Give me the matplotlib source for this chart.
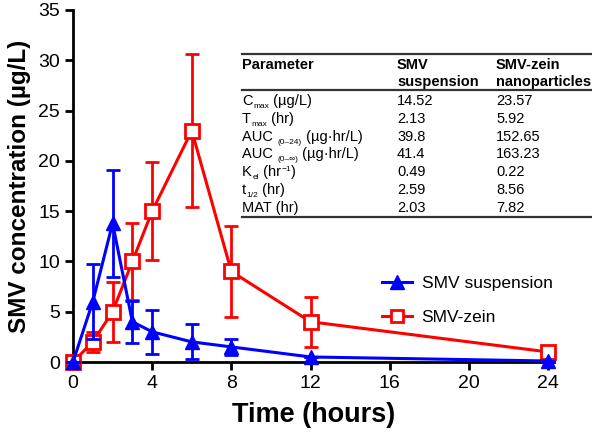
import matplotlib
matplotlib.use("Agg")
import matplotlib.pyplot as plt
from matplotlib.lines import Line2D

plt.rcParams['font.family'] = ['Liberation Sans', 'DejaVu Sans']

# time points (hours)
time = [0, 1, 2, 3, 4, 6, 8, 12, 24]

# SMV suspension
susp_mean = [0, 6.0, 13.8, 4.0, 3.0, 2.0, 1.5, 0.5, 0.1]
susp_err = [0, 3.7, 5.3, 2.1, 2.2, 1.75, 0.8, 0, 0]

# SMV-zein nanoparticles
zein_mean = [0, 2.0, 5.0, 10.0, 15.0, 23.0, 9.0, 4.0, 1.0]
zein_err = [0, 1.0, 3.0, 3.8, 4.9, 7.6, 4.5, 2.5, 0]

# PK parameter table: pieces of (text, kind) with kind n / sub / sup
param_names = [[('C', 'n'), ('max', 'sub'), (' (µg/L)', 'n')],
               [('T', 'n'), ('max', 'sub'), (' (hr)', 'n')],
               [('AUC ', 'n'), ('(0\u201324)', 'sub'), (' (µg·hr/L)', 'n')],
               [('AUC ', 'n'), ('(0\u2013\u221e)', 'sub'), (' (µg·hr/L)', 'n')],
               [('K', 'n'), ('el', 'sub'), (' (hr', 'n'), ('\u22121', 'sup'), (')', 'n')],
               [('t', 'n'), ('1/2', 'sub'), (' (hr)', 'n')],
               [('MAT (hr)', 'n')]]
susp_params = ['14.52', '2.13', '39.8', '41.4', '0.49', '2.59', '2.03']
zein_params = ['23.57', '5.92', '152.65', '163.23', '0.22', '8.56', '7.82']

W, H = 592, 436
fig = plt.figure(figsize=(W / 100, H / 100), dpi=100)
ax = fig.add_axes([73 / W, (H - 362) / H, 481 / W, 352 / H])

ax.errorbar(time, zein_mean, yerr=zein_err, color='#ff0000', lw=2.2, marker='s',
            ms=10, mfc='white', mec='#ff0000', mew=2, capsize=5, capthick=2,
            elinewidth=2, clip_on=False, zorder=3)
ax.errorbar(time, susp_mean, yerr=susp_err, color='#0000ff', lw=2.2, marker='^',
            ms=10, capsize=5, capthick=2, elinewidth=2, clip_on=False, zorder=4)

ax.set_xlim(0, 24.3)
ax.set_ylim(0, 35)
ax.set_xticks([0, 4, 8, 12, 16, 20, 24])
ax.set_yticks(range(0, 36, 5))
ax.spines['top'].set_visible(False)
ax.spines['right'].set_visible(False)
for s in ['left', 'bottom']:
    ax.spines[s].set_linewidth(2)
ax.tick_params(width=2, length=6, labelsize=14, direction='out')
ax.set_xlabel('Time (hours)', fontsize=19.5, fontweight='bold', labelpad=7)
ax.set_ylabel('SMV concentration (µg/L)', fontsize=17.5, fontweight='bold', labelpad=5)

handles = [Line2D([], [], color='#0000ff', lw=2.2, marker='^', ms=10),
           Line2D([], [], color='#ff0000', lw=2.2, marker='s', ms=9, mfc='white', mew=2)]
ax.legend(handles, ['SMV suspension', 'SMV-zein'], loc='upper left',
          bbox_to_anchor=((366 - 73) / 481, (362 - 260) / 352), frameon=False,
          fontsize=12.5, handlelength=1.75, labelspacing=1.1, handletextpad=0.55)

# table drawn in figure pixels
def fx(x):
    return x / W

def fy(y):
    return 1 - y / H

fs = 10.5
x0, x1 = 242, 592
col_x = [242, 397, 496]
for y in [54, 90, 217]:
    fig.add_artist(Line2D([fx(x0), fx(x1)], [fy(y), fy(y)], color='#333333', lw=1.6))
fig.text(fx(col_x[0]), fy(65), 'Parameter', fontsize=fs, fontweight='bold', va='center')
fig.text(fx(col_x[1]), fy(65), 'SMV', fontsize=fs, fontweight='bold', va='center')
fig.text(fx(col_x[1]), fy(82), 'suspension', fontsize=fs, fontweight='bold', va='center')
fig.text(fx(col_x[2]), fy(65), 'SMV-zein', fontsize=fs, fontweight='bold', va='center')
fig.text(fx(col_x[2]), fy(82), 'nanoparticles', fontsize=fs, fontweight='bold', va='center')

renderer = fig.canvas.get_renderer()
for i in range(len(param_names)):
    base = 105 + i * 17.8
    x = col_x[0]
    for piece, kind in param_names[i]:
        if kind == 'sub':
            t = fig.text(fx(x + 0.5), fy(base + 3), piece, fontsize=6, va='baseline')
        elif kind == 'sup':
            t = fig.text(fx(x + 0.5), fy(base - 5), piece, fontsize=6, va='baseline')
        else:
            t = fig.text(fx(x), fy(base), piece, fontsize=fs, va='baseline')
        x = t.get_window_extent(renderer).x1
    fig.text(fx(col_x[1]), fy(base), susp_params[i], fontsize=fs, va='baseline')
    fig.text(fx(col_x[2]), fy(base), zein_params[i], fontsize=fs, va='baseline')

fig.savefig('out.png', dpi=100)
